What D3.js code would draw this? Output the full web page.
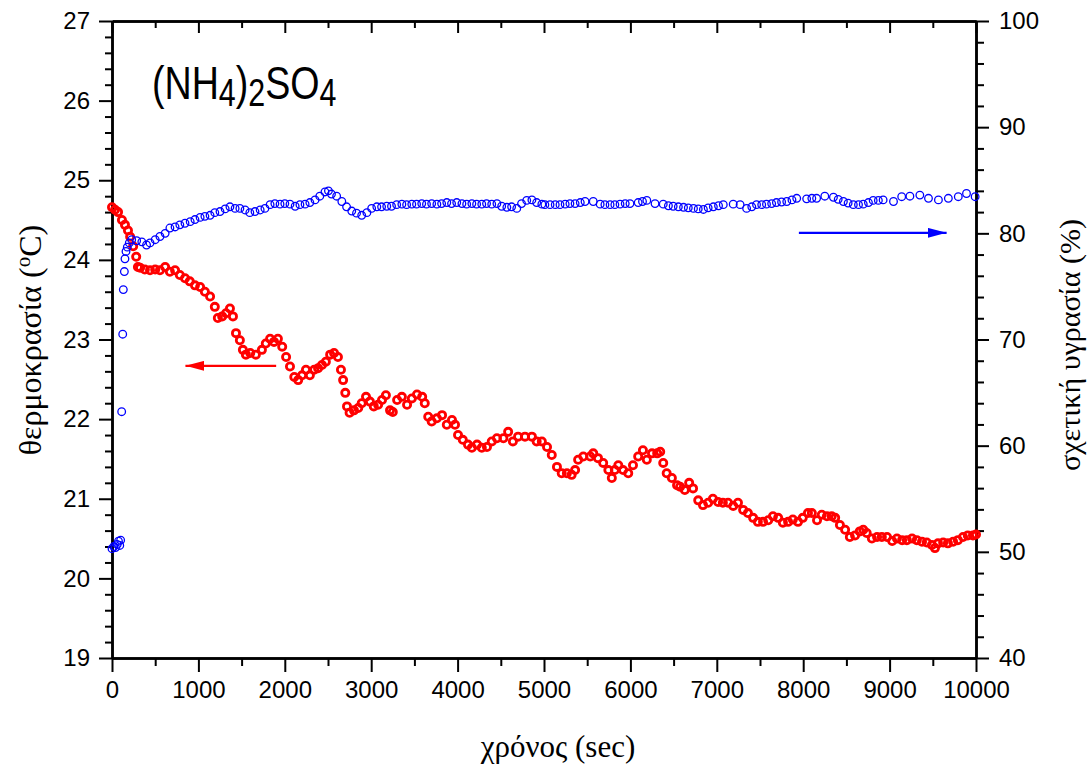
<!DOCTYPE html>
<html>
<head>
<meta charset="utf-8">
<script src="https://cdn.jsdelivr.net/npm/d3@7"></script>
<style>
  body { margin: 0; background: #fff; }
</style>
</head>
<body>
<div id="main"></div>
<script>
// temperature series (left axis), time in sec
const tempTime = [0, 35, 70, 115, 150, 185, 210, 245, 280, 300, 325, 380, 440, 500, 555, 615, 670, 730, 785, 845, 900, 960, 1020, 1075, 1135, 1190, 1225, 1275, 1320, 1365, 1400, 1435, 1480, 1515, 1550, 1600, 1665, 1735, 1780, 1830, 1875, 1920, 1970, 2015, 2060, 2110, 2155, 2200, 2245, 2290, 2340, 2385, 2430, 2475, 2525, 2570, 2615, 2650, 2675, 2700, 2720, 2750, 2800, 2850, 2890, 2940, 2985, 3030, 3080, 3125, 3170, 3218, 3250, 3300, 3355, 3415, 3470, 3530, 3590, 3620, 3660, 3700, 3760, 3820, 3875, 3935, 3970, 4005, 4060, 4120, 4165, 4225, 4280, 4340, 4395, 4455, 4530, 4585, 4640, 4700, 4780, 4860, 4915, 4975, 5035, 5090, 5150, 5205, 5265, 5320, 5360, 5395, 5455, 5535, 5570, 5625, 5685, 5745, 5785, 5820, 5860, 5915, 5975, 6030, 6090, 6145, 6190, 6250, 6310, 6345, 6380, 6420, 6480, 6540, 6575, 6630, 6680, 6725, 6785, 6840, 6900, 6955, 7015, 7070, 7130, 7190, 7245, 7305, 7360, 7420, 7475, 7535, 7595, 7650, 7710, 7765, 7825, 7880, 7940, 7995, 8055, 8100, 8160, 8215, 8275, 8330, 8370, 8425, 8485, 8540, 8600, 8655, 8695, 8735, 8795, 8855, 8910, 8970, 9030, 9085, 9145, 9200, 9260, 9315, 9375, 9430, 9490, 9525, 9560, 9620, 9675, 9735, 9790, 9850, 9905, 9965, 10000];
const tempValue = [24.66, 24.63, 24.60, 24.50, 24.44, 24.37, 24.29, 24.17, 24.04, 23.91, 23.90, 23.88, 23.87, 23.88, 23.87, 23.91, 23.85, 23.87, 23.81, 23.77, 23.73, 23.68, 23.66, 23.60, 23.54, 23.41, 23.27, 23.29, 23.33, 23.39, 23.29, 23.08, 22.99, 22.87, 22.81, 22.83, 22.81, 22.87, 22.95, 23.01, 22.97, 23.01, 22.91, 22.78, 22.66, 22.53, 22.49, 22.55, 22.62, 22.55, 22.62, 22.64, 22.68, 22.72, 22.81, 22.83, 22.78, 22.62, 22.49, 22.33, 22.16, 22.08, 22.11, 22.14, 22.20, 22.28, 22.22, 22.16, 22.18, 22.24, 22.30, 22.11, 22.09, 22.24, 22.28, 22.18, 22.26, 22.31, 22.28, 22.20, 22.03, 21.97, 22.01, 22.05, 21.93, 21.99, 21.93, 21.80, 21.74, 21.68, 21.64, 21.68, 21.64, 21.65, 21.72, 21.76, 21.76, 21.84, 21.72, 21.78, 21.78, 21.78, 21.72, 21.72, 21.65, 21.55, 21.40, 21.32, 21.32, 21.30, 21.36, 21.49, 21.53, 21.53, 21.57, 21.51, 21.45, 21.36, 21.26, 21.36, 21.42, 21.36, 21.32, 21.42, 21.53, 21.61, 21.49, 21.57, 21.57, 21.59, 21.45, 21.32, 21.26, 21.17, 21.15, 21.11, 21.20, 21.13, 20.98, 20.92, 20.95, 21.00, 20.96, 20.95, 20.95, 20.91, 20.95, 20.86, 20.82, 20.76, 20.71, 20.71, 20.73, 20.78, 20.76, 20.70, 20.71, 20.74, 20.71, 20.76, 20.82, 20.82, 20.73, 20.80, 20.78, 20.78, 20.76, 20.67, 20.61, 20.52, 20.54, 20.59, 20.61, 20.57, 20.50, 20.52, 20.52, 20.52, 20.47, 20.50, 20.48, 20.48, 20.50, 20.48, 20.46, 20.45, 20.42, 20.38, 20.44, 20.45, 20.44, 20.46, 20.48, 20.52, 20.54, 20.54, 20.55];

// relative humidity series (right axis)
const humTime = [0, 20, 40, 60, 75, 90, 100, 112, 124, 131, 143, 150, 162, 177, 200, 228, 285, 345, 400, 440, 500, 555, 615, 670, 730, 785, 845, 905, 960, 1020, 1075, 1135, 1190, 1250, 1310, 1365, 1425, 1480, 1540, 1595, 1655, 1715, 1770, 1830, 1885, 1945, 2000, 2060, 2120, 2175, 2235, 2290, 2350, 2405, 2465, 2505, 2540, 2600, 2660, 2715, 2775, 2830, 2890, 2950, 3005, 3065, 3120, 3180, 3235, 3295, 3355, 3410, 3470, 3525, 3585, 3640, 3700, 3760, 3815, 3875, 3930, 3990, 4050, 4105, 4165, 4220, 4280, 4335, 4395, 4455, 4510, 4570, 4625, 4685, 4740, 4800, 4860, 4915, 4975, 5010, 5070, 5130, 5185, 5245, 5300, 5360, 5420, 5475, 5570, 5650, 5705, 5765, 5820, 5880, 5940, 5995, 6090, 6140, 6190, 6285, 6380, 6440, 6495, 6555, 6615, 6670, 6730, 6785, 6845, 6900, 6960, 7020, 7075, 7190, 7270, 7345, 7405, 7460, 7520, 7575, 7635, 7690, 7750, 7810, 7870, 7925, 8040, 8100, 8155, 8250, 8350, 8405, 8465, 8520, 8580, 8640, 8695, 8755, 8810, 8870, 8925, 9045, 9140, 9235, 9350, 9450, 9565, 9680, 9795, 9890, 9990];
const humValue = [50.3, 50.5, 50.4, 50.7, 51.0, 50.6, 51.1, 63.2, 70.5, 74.7, 76.4, 77.6, 78.3, 78.7, 79.1, 79.4, 79.3, 79.2, 78.9, 79.1, 79.4, 79.7, 80.0, 80.5, 80.6, 80.8, 80.95, 81.1, 81.3, 81.5, 81.6, 81.7, 81.95, 82.05, 82.3, 82.5, 82.35, 82.35, 82.2, 81.95, 82.05, 82.2, 82.35, 82.7, 82.8, 82.75, 82.8, 82.75, 82.55, 82.7, 82.75, 82.9, 83.15, 83.5, 83.9, 84.0, 83.7, 83.5, 83.0, 82.5, 82.1, 81.9, 81.7, 81.95, 82.35, 82.5, 82.5, 82.55, 82.55, 82.7, 82.75, 82.7, 82.75, 82.75, 82.8, 82.75, 82.8, 82.75, 82.8, 82.9, 82.8, 82.9, 82.8, 82.75, 82.8, 82.75, 82.75, 82.8, 82.75, 82.8, 82.55, 82.45, 82.5, 82.35, 82.8, 83.1, 83.15, 82.9, 82.75, 82.7, 82.7, 82.7, 82.7, 82.75, 82.8, 82.8, 82.9, 83.0, 83.0, 82.75, 82.7, 82.7, 82.7, 82.75, 82.8, 82.8, 82.9, 83.0, 83.1, 82.8, 82.75, 82.6, 82.55, 82.5, 82.45, 82.4, 82.35, 82.3, 82.25, 82.4, 82.5, 82.6, 82.7, 82.75, 82.7, 82.35, 82.5, 82.7, 82.7, 82.75, 82.8, 82.9, 82.95, 83.0, 83.15, 83.3, 83.25, 83.3, 83.3, 83.5, 83.4, 83.2, 83.0, 82.85, 82.7, 82.7, 82.75, 82.9, 83.1, 83.1, 83.15, 83.0, 83.45, 83.5, 83.6, 83.3, 83.15, 83.3, 83.45, 83.75, 83.45];

// axis ticks
const xMajor = [0, 1000, 2000, 3000, 4000, 5000, 6000, 7000, 8000, 9000, 10000];
const xMinor = [500, 1500, 2500, 3500, 4500, 5500, 6500, 7500, 8500, 9500];
const tempTicks = [19, 20, 21, 22, 23, 24, 25, 26, 27];
const humTicks = [40, 50, 60, 70, 80, 90, 100];

const tempData = tempTime.map((t, i) => ({ t: t, v: tempValue[i] }));
const humData = humTime.map((t, i) => ({ t: t, v: humValue[i] }));

const width = 1091;
const height = 767;
const sansFont = 'Liberation Sans, Arial, sans-serif';
const serifFont = 'Times New Roman, Liberation Serif, Tinos, DejaVu Serif, Noto Serif, serif';

const svg = d3
  .select('div#main')
  .append('svg')
  .attr('width', width)
  .attr('height', height);

const x = d3.scaleLinear().domain([0, 10000]).range([112, 976]);
const yT = d3.scaleLinear().domain([19, 27]).range([658, 21]);
const yH = d3.scaleLinear().domain([40, 100]).range([658, 21]);

const tempMinor = d3.range(19, 27.001, 0.2).filter(v => Math.abs(v - Math.round(v)) > 0.01);
const humMinor = d3.range(40, 100.001, 2).filter(v => v % 10 !== 0);

// helper to style an axis group
function styleAxis(g) {
  g.attr('font-family', sansFont).attr('font-size', 24);
  g.select('.domain').attr('stroke', '#000').attr('stroke-width', 2.5);
  g.selectAll('.tick line').attr('stroke', '#000').attr('stroke-width', 2);
  g.selectAll('.tick text').attr('fill', '#000');
}

// minor ticks first
svg.append('g').attr('transform', 'translate(0,658)')
  .call(d3.axisBottom(x).tickValues(xMinor).tickSize(8).tickFormat('').tickSizeOuter(0)).call(styleAxis);
svg.append('g').attr('transform', 'translate(0,21)')
  .call(d3.axisBottom(x).tickValues(xMinor).tickSize(7).tickFormat('').tickSizeOuter(0)).call(styleAxis);
svg.append('g').attr('transform', 'translate(112,0)')
  .call(d3.axisLeft(yT).tickValues(tempMinor).tickSize(7).tickFormat('').tickSizeOuter(0)).call(styleAxis);
svg.append('g').attr('transform', 'translate(976,0)')
  .call(d3.axisRight(yH).tickValues(humMinor).tickSize(8).tickFormat('').tickSizeOuter(0)).call(styleAxis);

// major ticks with labels
svg.append('g').attr('transform', 'translate(0,658)')
  .call(d3.axisBottom(x).tickValues(xMajor).tickSize(14).tickPadding(9).tickFormat(d3.format('d')).tickSizeOuter(0))
  .call(styleAxis);
svg.append('g').attr('transform', 'translate(0,21)')
  .call(d3.axisBottom(x).tickValues(xMajor).tickSize(12).tickFormat('').tickSizeOuter(0))
  .call(styleAxis);
svg.append('g').attr('transform', 'translate(112,0)')
  .call(d3.axisLeft(yT).tickValues(tempTicks).tickSize(13).tickPadding(9).tickFormat(d3.format('d')).tickSizeOuter(0))
  .call(styleAxis);
svg.append('g').attr('transform', 'translate(976,0)')
  .call(d3.axisRight(yH).tickValues(humTicks).tickSize(13).tickPadding(10).tickFormat(d3.format('d')).tickSizeOuter(0))
  .call(styleAxis);

// temperature points (red)
svg.append('g')
  .selectAll('circle')
  .data(tempData)
  .join('circle')
  .attr('cx', d => x(d.t))
  .attr('cy', d => yT(d.v))
  .attr('r', 3.6)
  .attr('fill', 'none')
  .attr('stroke', '#ff0000')
  .attr('stroke-width', 2.8);

// humidity points (blue open circles)
svg.append('g')
  .selectAll('circle')
  .data(humData)
  .join('circle')
  .attr('cx', d => x(d.t))
  .attr('cy', d => yH(d.v))
  .attr('r', 3.8)
  .attr('fill', 'none')
  .attr('stroke', '#0000ff')
  .attr('stroke-width', 1.3);

// arrows
const defs = svg.append('defs');
[['redHead', '#ff0000'], ['blueHead', '#0000ff']].forEach(([id, col]) => {
  defs.append('marker')
    .attr('id', id)
    .attr('viewBox', '0 0 19 10')
    .attr('refX', 19).attr('refY', 5)
    .attr('markerWidth', 19).attr('markerHeight', 10)
    .attr('markerUnits', 'userSpaceOnUse')
    .attr('orient', 'auto')
    .append('path').attr('d', 'M0,0 L19,5 L0,10 Z').attr('fill', col);
});
svg.append('line')
  .attr('x1', x(1900)).attr('y1', yT(22.67))
  .attr('x2', x(850)).attr('y2', yT(22.67))
  .attr('stroke', '#ff0000').attr('stroke-width', 2.2)
  .attr('marker-end', 'url(#redHead)');
svg.append('line')
  .attr('x1', x(7950)).attr('y1', yH(80.05))
  .attr('x2', x(9660)).attr('y2', yH(80.05))
  .attr('stroke', '#0000ff').attr('stroke-width', 2.2)
  .attr('marker-end', 'url(#blueHead)');

// compound label
const chem = svg.append('text')
  .attr('transform', 'translate(152,99) scale(0.8,1)')
  .attr('font-family', sansFont)
  .attr('font-size', 47)
  .attr('fill', '#000');
chem.append('tspan').text('(NH');
chem.append('tspan').attr('dy', 7).attr('font-size', 38).text('4');
chem.append('tspan').attr('dy', -7).text(')');
chem.append('tspan').attr('dy', 7).attr('font-size', 38).text('2');
chem.append('tspan').attr('dy', -7).text('SO');
chem.append('tspan').attr('dy', 7).attr('font-size', 38).text('4');

// axis titles
svg.append('text')
  .attr('x', 558).attr('y', 757)
  .attr('text-anchor', 'middle')
  .attr('font-family', serifFont)
  .attr('font-size', 31)
  .text('χρόνος (sec)');

const lt = svg.append('text')
  .attr('transform', 'translate(41,340) rotate(-90)')
  .attr('text-anchor', 'middle')
  .attr('font-family', serifFont)
  .attr('font-size', 32);
lt.append('tspan').text('θερμοκρασία (');
lt.append('tspan').attr('dy', -11).attr('font-size', 21).text('o');
lt.append('tspan').attr('dy', 11).text('C)');

svg.append('text')
  .attr('transform', 'translate(1080,345) rotate(-90)')
  .attr('text-anchor', 'middle')
  .attr('font-family', serifFont)
  .attr('font-size', 30)
  .text('σχετική υγρασία (%)');
</script>
</body>
</html>
